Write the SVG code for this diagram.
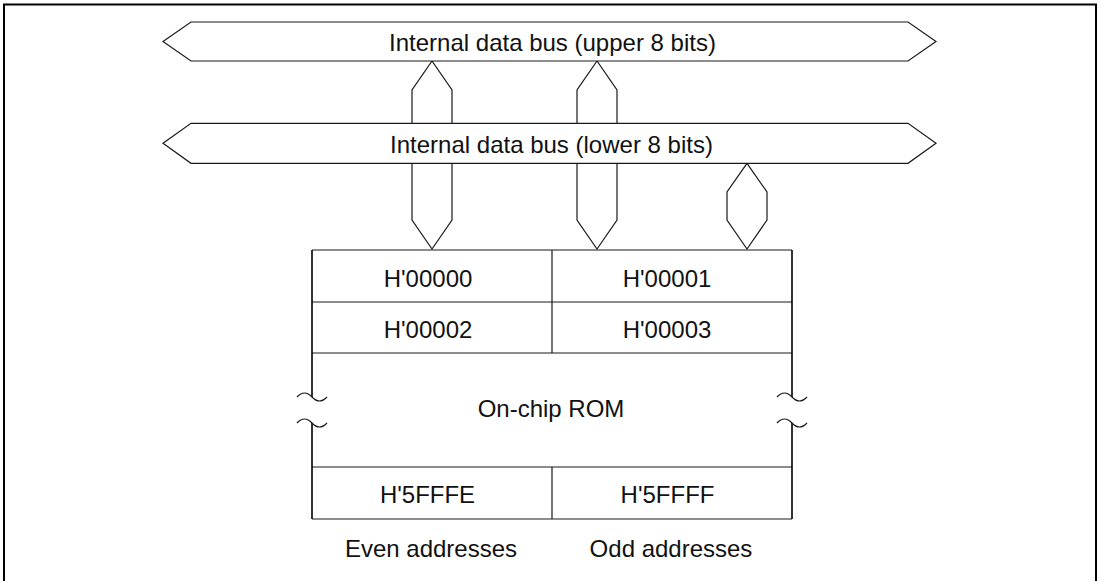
<svg xmlns="http://www.w3.org/2000/svg" width="1101" height="581" viewBox="0 0 1101 581">
<style>
.ln{fill:none;stroke:#1a1a1a;stroke-width:1.2}
.bus{fill:#fff;stroke:#1a1a1a;stroke-width:1.2}
.side{fill:none;stroke:#000;stroke-width:1.6}
.t{font-family:"Liberation Sans",Arial,sans-serif;font-size:24px;fill:#111;text-anchor:middle}
</style>
<rect x="0" y="0" width="1101" height="581" fill="#fff"/>
<rect id="frame" x="4" y="4.5" width="1092" height="590" fill="none" stroke="#000" stroke-width="2"/>
<g id="connectors">
<path class="ln" d="M412,123.3 V90 L432,61 L452,90 V123.3"/>
<path class="ln" d="M412,163.3 V220 L432,249 L452,220 V163.3"/>
<path class="ln" d="M577,123.3 V90 L597,61 L617,90 V123.3"/>
<path class="ln" d="M577,163.3 V220 L597,249 L617,220 V163.3"/>
<path class="ln" d="M747,163.3 L767,192 V220 L747,249 L727,220 V192 Z"/>
</g>
<g id="bus-upper">
<polygon class="bus" points="163,41.5 191,22 908,22 936,41.5 908,61 191,61"/>
<text class="t" x="552.5" y="50.8">Internal data bus (upper 8 bits)</text>
</g>
<g id="bus-lower">
<polygon class="bus" points="163,143.3 191,123.3 908,123.3 936,143.3 908,163.3 191,163.3"/>
<text class="t" x="551.5" y="152.8">Internal data bus (lower 8 bits)</text>
</g>
<g id="rom">
<path class="ln" d="M312,250 H792 M312,302 H792 M312,353 H792 M552,250 V353 M312,467 H792 M312,519 H792 M552,467 V519"/>
<path class="side" d="M312,250 V397 M312,423 V519 M792,250 V397 M792,423 V519"/>
<path class="ln" d="M297,397 q7.5,-8 15,0 t15,0 M297,423 q7.5,-8 15,0 t15,0 M777,397 q7.5,-8 15,0 t15,0 M777,423 q7.5,-8 15,0 t15,0"/>
<text class="t" x="428" y="287">H'00000</text>
<text class="t" x="667" y="287">H'00001</text>
<text class="t" x="428" y="338">H'00002</text>
<text class="t" x="667" y="338">H'00003</text>
<text class="t" x="551" y="417">On-chip ROM</text>
<text class="t" x="427.5" y="503.3">H'5FFFE</text>
<text class="t" x="667.5" y="503.3">H'5FFFF</text>
</g>
<g id="labels">
<text class="t" x="431" y="556.8">Even addresses</text>
<text class="t" x="671" y="556.8">Odd addresses</text>
</g>
</svg>
